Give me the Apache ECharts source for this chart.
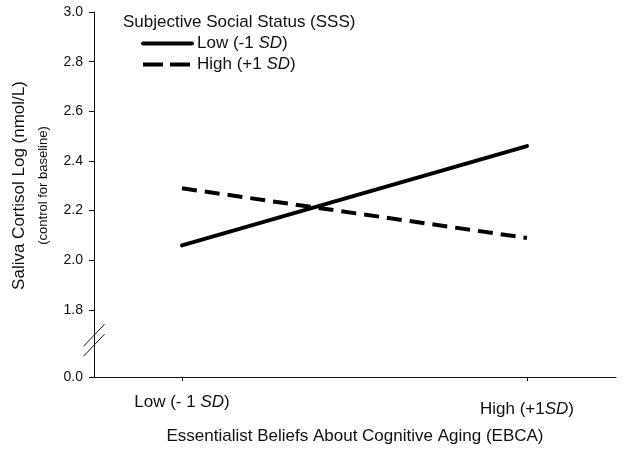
<!DOCTYPE html>
<html>
<head>
<meta charset="utf-8">
<script src="https://cdn.jsdelivr.net/npm/echarts@6/dist/echarts.min.js"></script>
<style>
  html, body { margin: 0; padding: 0; background: #fff; }
  #chart { width: 624px; height: 457px; }
</style>
</head>
<body>
<div id="chart"></div>
<script>
  // x positions: 0 = Low (-1 SD) EBCA, 1 = High (+1 SD) EBCA
  const xPos = [0, 1]
  const xLabels = ['{n|Low (- 1 }{i|SD}{n|)}', '{h|High (+1}{hi|SD}{h|)}']
  const lowSSS = [2.06, 2.46]
  const highSSS = [2.29, 2.09]
  // 1.53 is where the broken axis shows 0.0
  const yTicks = [1.53, 1.8, 2.0, 2.2, 2.4, 2.6, 2.8, 3.0]

  const font = 'Liberation Sans, Arial, sans-serif'
  const ink = '#111'

  let chart = echarts.init(document.getElementById('chart'))

  let options = {
    backgroundColor: '#fff',
    animation: false,
    textStyle: { fontFamily: font },
    title: {
      text: 'Subjective Social Status (SSS)',
      left: 118,
      top: 9,
      textStyle: { fontSize: 17, fontWeight: 'normal', color: ink, fontFamily: font }
    },
    legend: {
      orient: 'vertical',
      left: 136,
      top: 30,
      itemWidth: 49,
      itemHeight: 12,
      itemGap: 4,
      itemStyle: { opacity: 0 },
      data: [
        { name: 'Low (-1 SD)', lineStyle: { color: '#000', width: 4, opacity: 1, type: 'solid' } },
        { name: 'High (+1 SD)', lineStyle: { color: '#000', width: 4, opacity: 1, type: [20, 7] } }
      ],
      formatter: function (name) {
        return name === 'Low (-1 SD)' ? '{n|Low (-1 }{i|SD}{n|)}' : '{n|High (+1 }{i|SD}{n|)}'
      },
      textStyle: {
        color: ink,
        rich: {
          n: { fontSize: 17, color: ink, fontFamily: font },
          i: { fontSize: 17, color: ink, fontStyle: 'italic', fontFamily: font }
        }
      }
    },
    grid: { left: 94, right: 8, top: 12, bottom: 80, outerBoundsMode: 'none' },
    xAxis: {
      type: 'value',
      min: -0.255,
      max: 1.258,
      name: 'Essentialist Beliefs About Cognitive Aging (EBCA)',
      nameLocation: 'middle',
      nameGap: 51,
      nameTextStyle: { fontSize: 17, color: ink, fontFamily: font },
      splitLine: { show: false },
      axisLine: { onZero: false, lineStyle: { color: ink, width: 1 } },
      axisTick: { show: true, customValues: xPos, length: 4, lineStyle: { color: ink } },
      axisLabel: {
        customValues: xPos,
        margin: 17,
        formatter: function (v) { return xLabels[Math.round(v)] },
        rich: {
          n: { fontSize: 17, color: ink, fontFamily: font },
          i: { fontSize: 17, color: ink, fontStyle: 'italic', fontFamily: font },
          h: { fontSize: 17, color: ink, fontFamily: font, padding: [7, 0, 0, 0] },
          hi: { fontSize: 17, color: ink, fontStyle: 'italic', fontFamily: font, padding: [7, 0, 0, 0] }
        }
      }
    },
    yAxis: {
      type: 'value',
      min: 1.53,
      max: 3.0,
      name: '{a|Saliva Cortisol Log (nmol/L)}\n{b|(control for baseline)}',
      nameLocation: 'middle',
      nameGap: 41,
      nameRotate: 90,
      nameTextStyle: {
        padding: [0, 0, 0, 18],
        rich: {
          a: { fontSize: 17, color: ink, fontFamily: font, lineHeight: 28 },
          b: { fontSize: 13, color: ink, fontFamily: font, lineHeight: 20 }
        }
      },
      splitLine: { show: false },
      axisLine: { show: true, onZero: false, lineStyle: { color: ink, width: 1 } },
      axisTick: { show: true, customValues: yTicks, length: 5, lineStyle: { color: ink } },
      axisLabel: {
        customValues: yTicks,
        margin: 11,
        fontSize: 14,
        color: ink,
        fontFamily: font,
        formatter: function (v) { return v < 1.6 ? '0.0' : v.toFixed(1) }
      }
    },
    series: [
      {
        name: 'Low (-1 SD)',
        type: 'line',
        symbol: 'none',
        color: '#000',
        lineStyle: { color: '#000', width: 4, cap: 'round' },
        data: xPos.map((x, i) => [x, lowSSS[i]])
      },
      {
        name: 'High (+1 SD)',
        type: 'line',
        symbol: 'none',
        color: '#000',
        lineStyle: { color: '#000', width: 4, type: [15, 8] },
        data: xPos.map((x, i) => [x, highSSS[i]])
      }
    ]
  }

  chart.setOption(options)

  // axis break marks "//" between 0.0 and 1.8
  let p1 = chart.convertToPixel({ gridIndex: 0 }, [-0.255, 1.698])
  let p2 = chart.convertToPixel({ gridIndex: 0 }, [-0.255, 1.658])
  chart.setOption({
    graphic: [p1, p2].map(p => ({
      type: 'line',
      shape: { x1: p[0] - 10.5, y1: p[1] + 11, x2: p[0] + 10.5, y2: p[1] - 11 },
      style: { stroke: ink, lineWidth: 1 }
    }))
  })
</script>
</body>
</html>
